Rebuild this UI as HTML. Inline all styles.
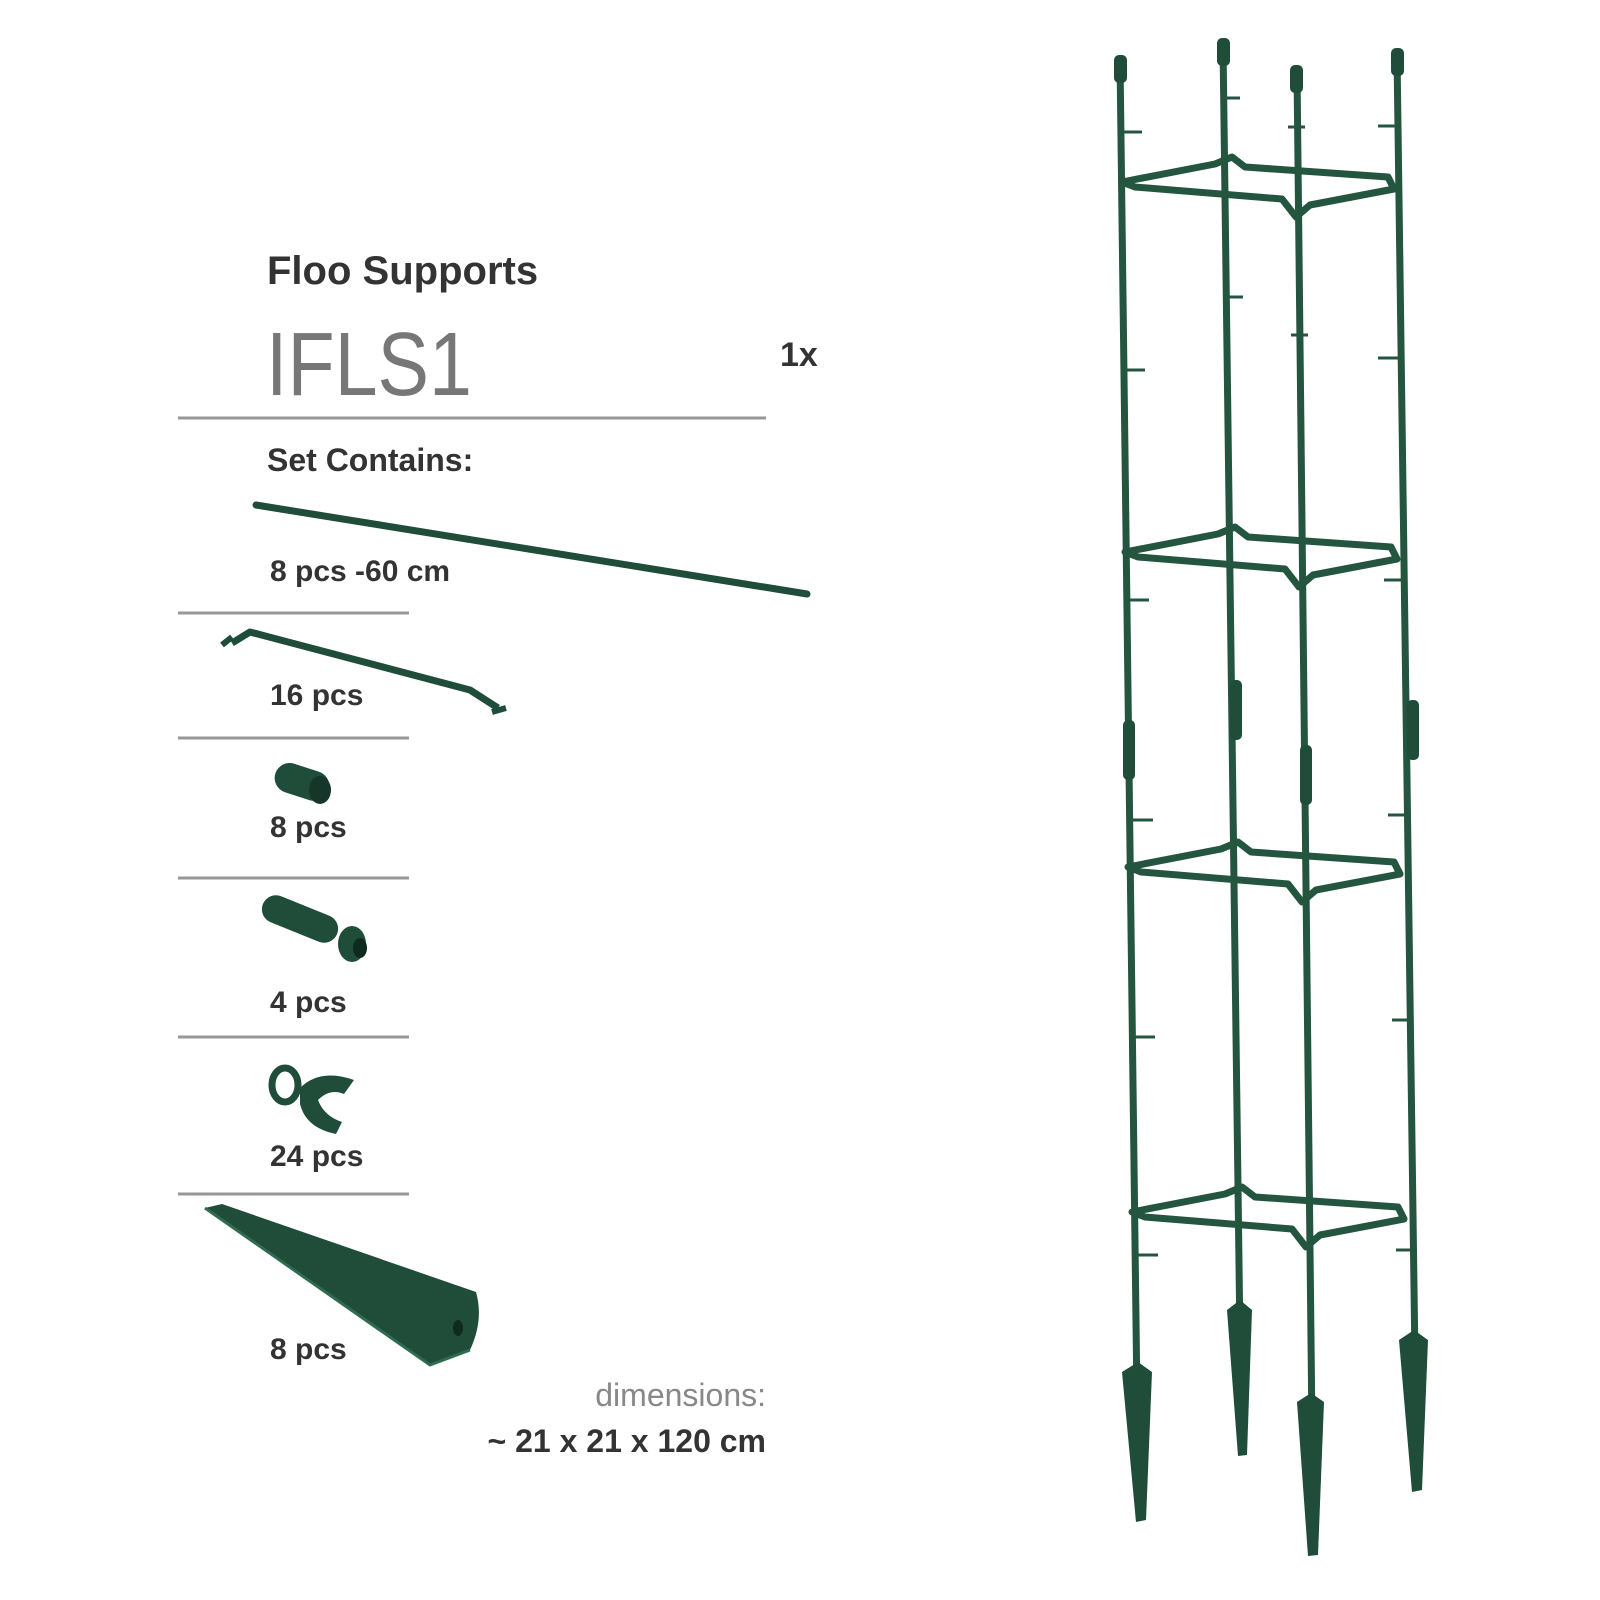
<!DOCTYPE html>
<html><head><style>
html,body{margin:0;padding:0;background:#fff;width:1600px;height:1600px;overflow:hidden}
svg{display:block}
.t{font-family:"Liberation Sans",sans-serif;fill:#333}
.b{font-weight:bold}
</style></head><body>
<svg width="1600" height="1600" viewBox="0 0 1600 1600" xmlns="http://www.w3.org/2000/svg">
<g class="t">
<text x="267" y="284" class="t b" font-size="40">Floo Supports</text>
<text x="266" y="395" font-size="90" style="fill:#777" textLength="206" lengthAdjust="spacingAndGlyphs" font-family="Liberation Sans Narrow, Liberation Sans, sans-serif">IFLS1</text>
<text x="780" y="366" class="t b" font-size="34">1x</text>
<text x="267" y="471" class="t b" font-size="32">Set Contains:</text>
<text x="270" y="581" class="t b" font-size="30">8 pcs -60 cm</text>
<text x="270" y="705" class="t b" font-size="30">16 pcs</text>
<text x="270" y="837" class="t b" font-size="30">8 pcs</text>
<text x="270" y="1012" class="t b" font-size="30">4 pcs</text>
<text x="270" y="1166" class="t b" font-size="30">24 pcs</text>
<text x="270" y="1359" class="t b" font-size="30">8 pcs</text>
<text x="766" y="1406" text-anchor="end" font-size="32" style="fill:#888">dimensions:</text>
<text x="766" y="1452" text-anchor="end" class="t b" font-size="32">~ 21 x 21 x 120 cm</text>
</g>
<g stroke="#999" stroke-width="3">
<line x1="178" y1="418" x2="766" y2="418"/>
<line x1="178" y1="613" x2="409" y2="613"/>
<line x1="178" y1="738" x2="409" y2="738"/>
<line x1="178" y1="878" x2="409" y2="878"/>
<line x1="178" y1="1037" x2="409" y2="1037"/>
<line x1="178" y1="1194" x2="409" y2="1194"/>
</g>
<g fill="#1f4d3a" stroke="#1f4d3a">
<line x1="256" y1="505" x2="807" y2="594" stroke-width="7" stroke-linecap="round"/>
<path d="M232 643 L250 632 L470 690 L498 708" fill="none" stroke-width="7" stroke-linejoin="round"/>
<path d="M222 645 l10 -8 M492 712 l14 -4" stroke-width="6"/>
<rect x="274" y="767" width="56" height="30" rx="15" transform="rotate(18 302 782)" stroke="none"/>
<ellipse cx="320" cy="790" rx="11" ry="14" fill="#153628" stroke="none"/>
<rect x="260" y="905" width="80" height="28" rx="14" transform="rotate(22 300 919)" stroke="none"/>
<ellipse cx="352" cy="944" rx="14" ry="18" stroke="none"/>
<ellipse cx="360" cy="948" rx="7" ry="10" fill="#0f2a1e" stroke="none"/>
<ellipse cx="285" cy="1085" rx="13" ry="17" fill="none" stroke-width="7"/>
<path d="M300 1088 q20 -20 54 -8 l-10 14 q-14 -6 -26 6 q6 16 24 22 l-6 12 q-30 -6 -36 -30z" stroke="none"/>
<path d="M205 1208 L222 1204 L476 1292 Q484 1320 470 1350 L430 1365 Z" stroke="none"/>
<path d="M205 1208 L430 1365 L470 1350" fill="none" stroke="#2f6b50" stroke-width="3"/>
<ellipse cx="458" cy="1328" rx="5" ry="8" fill="#0f2a1e" stroke="none"/>
</g>
<g stroke="#24553f" fill="none" stroke-width="7" stroke-linecap="round" stroke-linejoin="round">
<line x1="1120" y1="60" x2="1137" y2="1400"/>
<line x1="1223" y1="45" x2="1240" y2="1340"/>
<line x1="1297" y1="72" x2="1312" y2="1430"/>
<line x1="1397" y1="55" x2="1415" y2="1360"/>
<g id="ring">
<path d="M1122 182 L1215 164 L1232 157 L1245 167 L1388 177 L1394 189 L1310 205 L1296 217 L1282 199 L1135 187 Z"/>
</g>
<use href="#ring" transform="translate(3 370)"/>
<use href="#ring" transform="translate(6 685)"/>
<use href="#ring" transform="translate(10 1030)"/>
</g>
<g fill="#1f4d3a">
<rect x="1114" y="55" width="13" height="28" rx="5"/>
<rect x="1217" y="38" width="13" height="28" rx="5"/>
<rect x="1290" y="65" width="13" height="28" rx="5"/>
<rect x="1391" y="48" width="13" height="28" rx="5"/>
<rect x="1123" y="720" width="12" height="60" rx="5"/>
<rect x="1230" y="680" width="12" height="60" rx="5"/>
<rect x="1300" y="745" width="12" height="60" rx="5"/>
<rect x="1407" y="700" width="12" height="60" rx="5"/>
<path d="M1138 1362 L1152 1372 L1146 1520 L1136 1522 L1122 1372 Z"/>
<path d="M1240 1300 L1252 1310 L1247 1455 L1238 1456 L1227 1310 Z"/>
<path d="M1311 1393 L1324 1402 L1318 1555 L1308 1556 L1297 1402 Z"/>
<path d="M1414 1330 L1428 1340 L1422 1490 L1412 1492 L1399 1340 Z"/>
</g>
<g stroke="#24553f" stroke-width="3">
<line x1="1122" y1="132" x2="1142" y2="132"/><line x1="1125" y1="370" x2="1145" y2="370"/>
<line x1="1129" y1="600" x2="1149" y2="600"/><line x1="1133" y1="820" x2="1153" y2="820"/>
<line x1="1135" y1="1037" x2="1155" y2="1037"/><line x1="1138" y1="1255" x2="1158" y2="1255"/>
<line x1="1378" y1="126" x2="1398" y2="126"/><line x1="1378" y1="358" x2="1400" y2="358"/>
<line x1="1384" y1="580" x2="1404" y2="580"/><line x1="1388" y1="815" x2="1408" y2="815"/>
<line x1="1392" y1="1020" x2="1412" y2="1020"/><line x1="1396" y1="1250" x2="1416" y2="1250"/>
<line x1="1288" y1="127" x2="1305" y2="127"/><line x1="1291" y1="335" x2="1308" y2="335"/>
<line x1="1224" y1="98" x2="1240" y2="98"/><line x1="1227" y1="297" x2="1243" y2="297"/>
</g>
</svg>
</body></html>
